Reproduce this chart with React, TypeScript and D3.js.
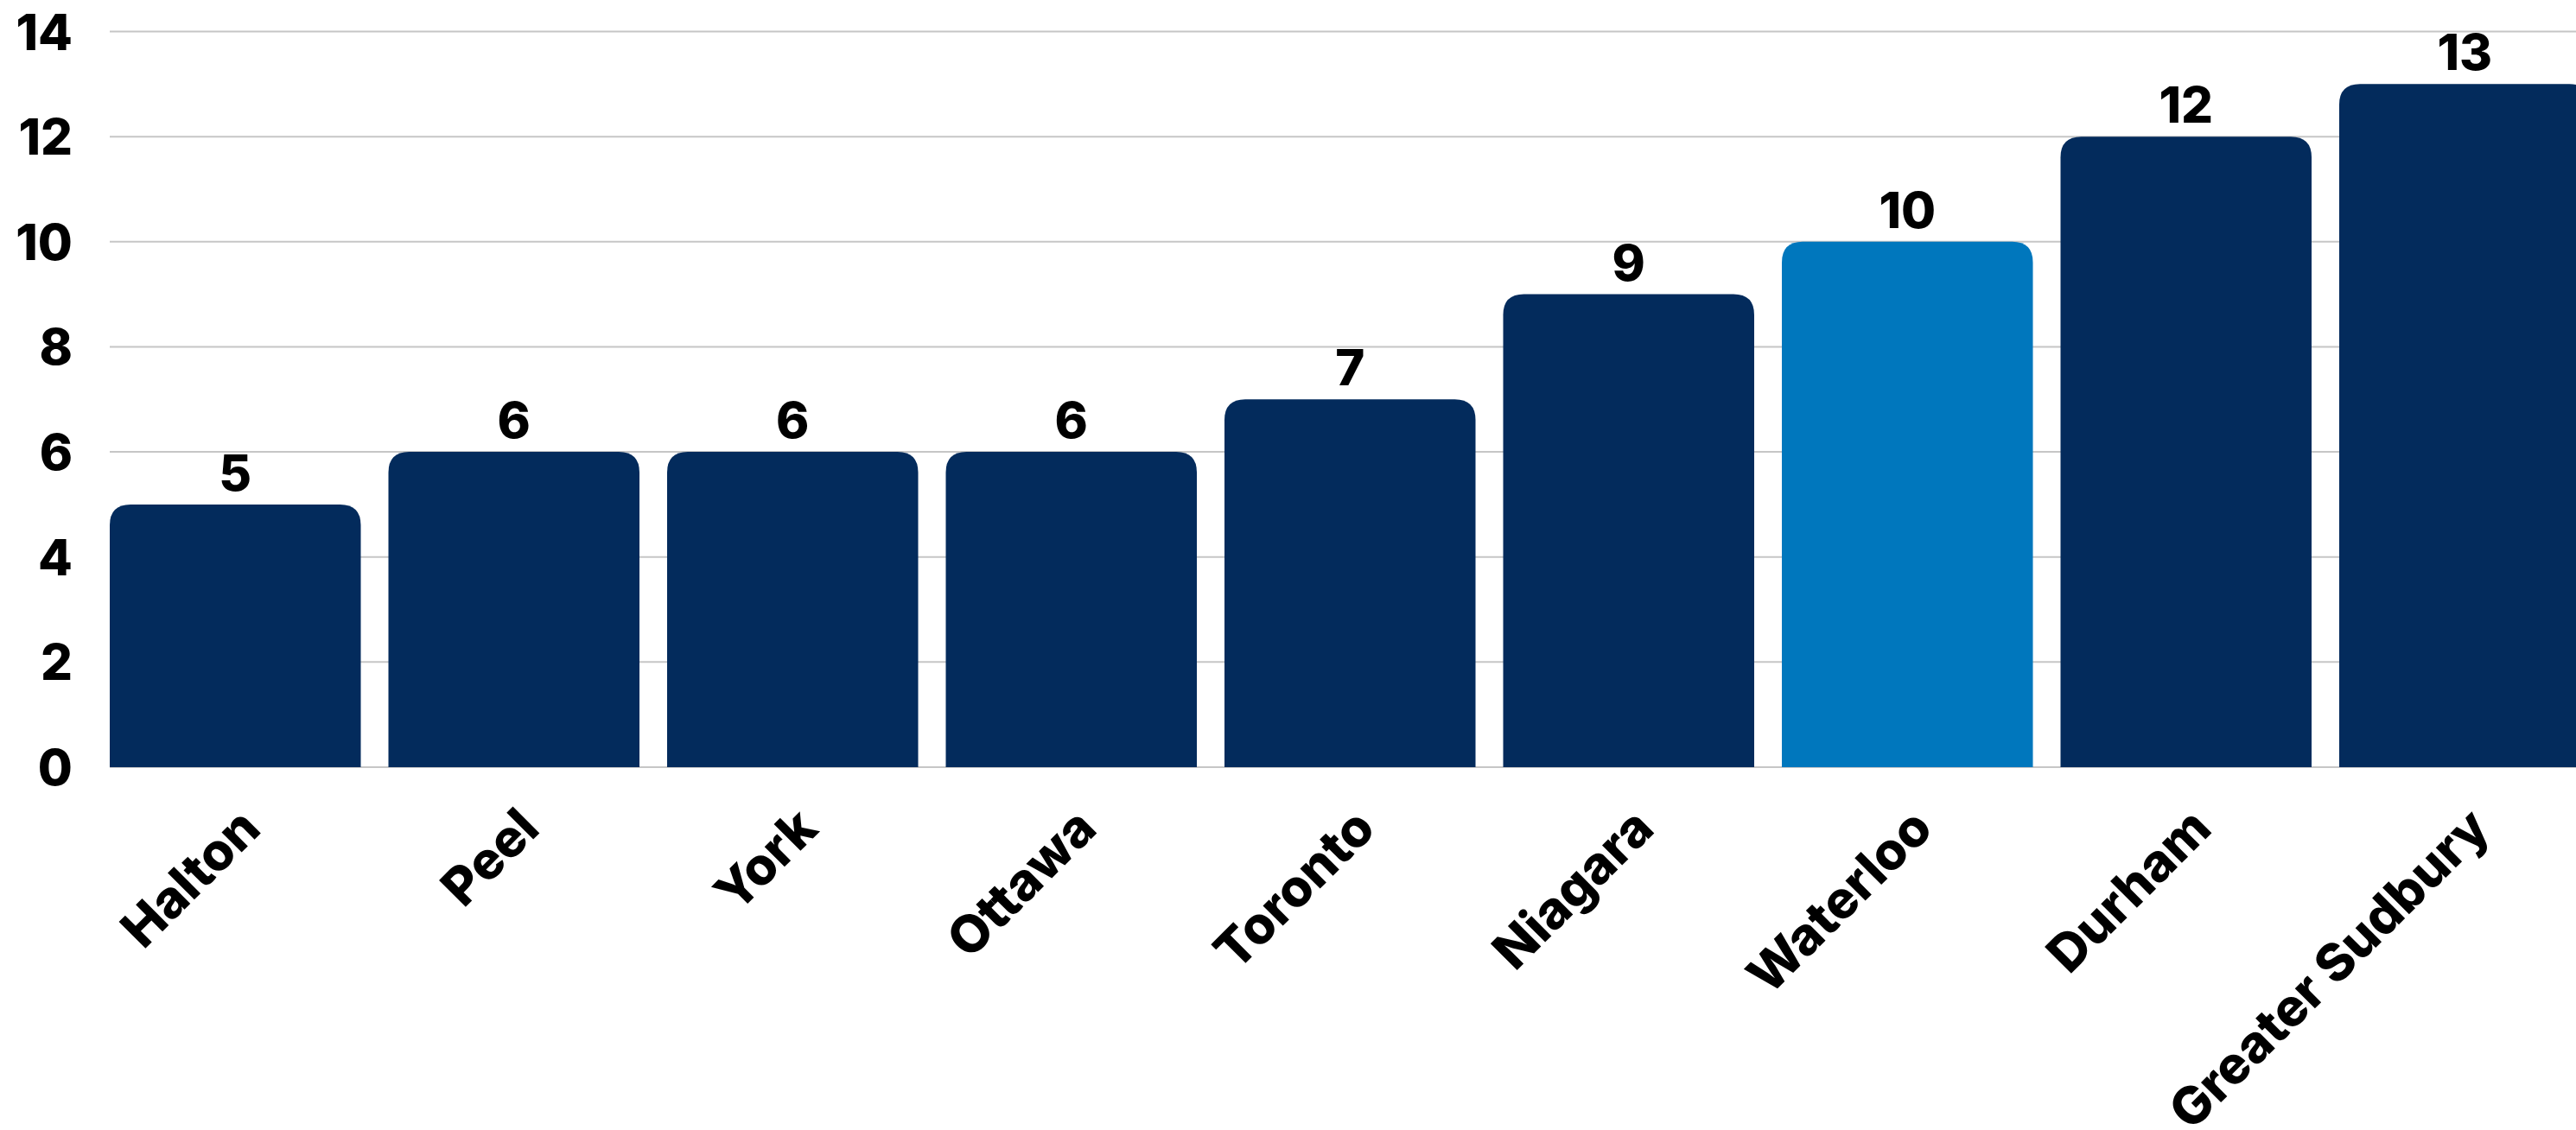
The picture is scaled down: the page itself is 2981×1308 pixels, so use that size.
import React from "react";
import * as d3 from "d3";

const categories = ["Halton", "Peel", "York", "Ottawa", "Toronto", "Niagara", "Waterloo", "Durham", "Greater Sudbury"];
const values = [5, 6, 6, 6, 7, 9, 10, 12, 13];
const highlight = ["Waterloo"];
const yTicks = [0, 2, 4, 6, 8, 10, 12, 14];

const W = 2981;
const H = 1308;
const FONT = "Inter, 'Open Sans', sans-serif";

export default function App() {
  const x = d3.scaleBand<string>().domain(categories).range([127, 2997.5]).paddingInner(0.0992).paddingOuter(0);
  const y = d3.scaleLinear().domain([0, 14]).range([888, 36.5]);
  const r = 24;
  const barPath = (x0: number, w: number, yTop: number, yBot: number) => {
    const rr = Math.min(r, (yBot - yTop) / 2, w / 2);
    return `M${x0},${yBot}V${yTop + rr}Q${x0},${yTop} ${x0 + rr},${yTop}H${x0 + w - rr}Q${x0 + w},${yTop} ${x0 + w},${yTop + rr}V${yBot}Z`;
  };
  return (
    <svg width={W} height={H} style={{ position: "absolute", left: 0, top: 0, background: "#fff" }} fontFamily={FONT}>
      {yTicks.map((t) => (
        <g key={t}>
          <line x1={127} x2={W} y1={y(t)} y2={y(t)} stroke="#c6c6c6" strokeWidth={2} />
          <text x={84} y={y(t)} textAnchor="end" dominantBaseline="central" fontSize={58} fontWeight={800} fill="#000">
            {t}
          </text>
        </g>
      ))}
      {categories.map((c, i) => {
        const x0 = x(c)!;
        const w = x.bandwidth();
        const v = values[i];
        return (
          <g key={c}>
            <path d={barPath(x0, w, y(v), y(0))} fill={highlight.includes(c) ? "#0077BD" : "#032B5C"} />
            <text x={x0 + w / 2} y={y(v) - 16} textAnchor="middle" fontSize={58} fontWeight={800} fill="#000">
              {v}
            </text>
            <text
              transform={`translate(${x0 + w / 2 + 32},${y(0) + 74}) rotate(-45)`}
              textAnchor="end"
              fontSize={60}
              fontWeight={800}
              fill="#000"
            >
              {c}
            </text>
          </g>
        );
      })}
    </svg>
  );
}
